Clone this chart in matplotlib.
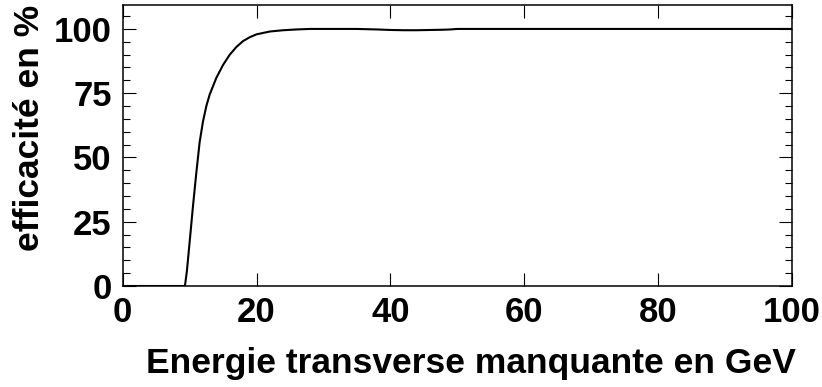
import matplotlib
matplotlib.use('Agg')
import matplotlib.pyplot as plt
from matplotlib.ticker import MultipleLocator

plt.rcParams['font.family'] = ['Liberation Sans', 'DejaVu Sans']
plt.rcParams['font.weight'] = 'bold'

# trigger efficiency vs missing transverse energy
met_gev = [0, 9.3, 9.6, 10.0, 10.5, 11.0, 11.5, 12.0, 12.5, 13.0, 14.0, 15.0,
           16.0, 17.0, 18.0, 19.0, 20.0, 22.0, 24.0, 26.0, 28.0, 30.0, 35.0,
           38.0, 40.0, 42.0, 44.0, 46.0, 48.0, 49.0, 50.0, 100.0]
eff_pct = [0, 0, 6, 17, 31, 44, 56, 64, 70, 74.5, 81, 86,
           90, 93, 95.3, 96.8, 97.9, 99.0, 99.5, 99.8, 100, 100, 100,
           99.8, 99.6, 99.5, 99.5, 99.6, 99.7, 99.8, 100, 100]

xticks = [0, 20, 40, 60, 80, 100]
yticks = [0, 25, 50, 75, 100]

fig = plt.figure(figsize=(8.22, 3.87), dpi=100)
ax = fig.add_axes([0.1493, 0.261, 0.8138, 0.726])

ax.plot(met_gev, eff_pct, color='black', lw=1.5)

ax.set_xlim(0, 100)
ax.set_ylim(0, 109.3)
ax.set_xticks(xticks)
ax.set_yticks(yticks)
ax.yaxis.set_minor_locator(MultipleLocator(5))

ax.tick_params(which='both', direction='in', top=True, right=True,
               width=0.8, labelsize=25)
ax.tick_params(which='major', length=9.5)
ax.tick_params(which='minor', length=5)
ax.tick_params(axis='x', pad=7)
ax.tick_params(axis='y', pad=8)
for lbl in ax.get_xticklabels() + ax.get_yticklabels():
    lbl.set_fontweight('bold')
for sp in ax.spines.values():
    sp.set_linewidth(1.1)

ax.set_xlabel('Energie transverse manquante en GeV', fontsize=25.5,
              fontweight='bold', va='center')
ax.set_ylabel('efficacité en %', fontsize=25.5, fontweight='bold')
ax.xaxis.set_label_coords(0.521, -0.275)
ax.yaxis.set_label_coords(-0.114, 0.564)

fig.savefig('out.png', dpi=100)
